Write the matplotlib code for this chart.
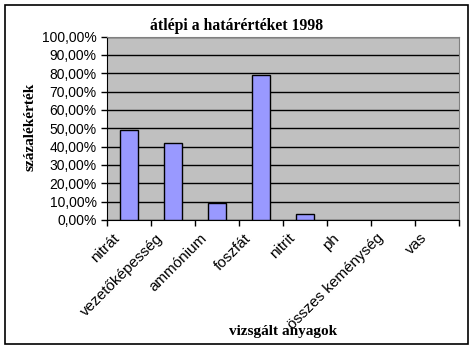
import matplotlib.pyplot as plt
from matplotlib.patches import Rectangle
from matplotlib.ticker import FuncFormatter
from matplotlib.transforms import ScaledTranslation

# Adatok
anyagok = ['nitrát', 'vezetőképesség', 'ammónium', 'foszfát', 'nitrit',
           'ph', 'összes keménység', 'vas']
szazalek = [48.8, 42.2, 9.5, 79.0, 3.3, 0, 0, 0]
y_ticks = [0, 10, 20, 30, 40, 50, 60, 70, 80, 90, 100]

fig = plt.figure(figsize=(4.75, 3.51), dpi=100)
ax = fig.add_axes([107/475, 1 - 220/351, 352/475, 183.5/351])

# Külső keret
fig.patches.append(Rectangle((5/475, 1 - 344/351), 463/475, 339/351,
                             transform=fig.transFigure, fill=False,
                             edgecolor='black', linewidth=1.2))

ax.set_facecolor('#C0C0C0')
x = list(range(len(anyagok)))
bars = ax.bar(x, szazalek, width=0.41, color='#9999FF', edgecolor='black',
              linewidth=1, zorder=3)
for b, v in zip(bars, szazalek):
    if v == 0:
        b.set_linewidth(0)

ax.set_xlim(-0.5, len(anyagok) - 0.5)
ax.set_ylim(0, 100)
ax.set_yticks(y_ticks)
ax.yaxis.set_major_formatter(FuncFormatter(lambda v, p: f'{v:.2f}%'.replace('.', ',')))
ax.grid(axis='y', color='black', linewidth=1, zorder=1)

ax.set_xticks([i - 0.5 for i in range(len(anyagok) + 1)])
ax.set_xticklabels([])
ax.tick_params(axis='x', length=4, width=1, color='black')
ax.tick_params(axis='y', length=4, width=1, labelsize=10)
for lab in ax.get_yticklabels():
    lab.set_family('Liberation Sans')

# kategória feliratok, 45 fokban
eltolas = ScaledTranslation(-17/100, -11/100, fig.dpi_scale_trans)
for i, nev in zip(x, anyagok):
    ax.text(i, 0, nev, transform=ax.transData + eltolas, rotation=45,
            rotation_mode='anchor', ha='right', va='top', fontsize=11,
            family='Liberation Sans', clip_on=False)

for s in ['top', 'right']:
    ax.spines[s].set_color('#808080')
for s in ['left', 'bottom']:
    ax.spines[s].set_color('black')

fig.text(237/475, 1 - 26/351, 'átlépi a határértéket 1998', ha='center',
         va='center', family='Liberation Serif', fontweight='bold', fontsize=11.3)
fig.text(30/475, 1 - 127/351, 'százalékérték', ha='center', va='center',
         rotation=90, family='Liberation Serif', fontweight='bold', fontsize=11)
fig.text(283/475, 1 - 332/351, 'vizsgált anyagok', ha='center', va='center',
         family='Liberation Serif', fontweight='bold', fontsize=11)

fig.savefig('out.png', dpi=100)
